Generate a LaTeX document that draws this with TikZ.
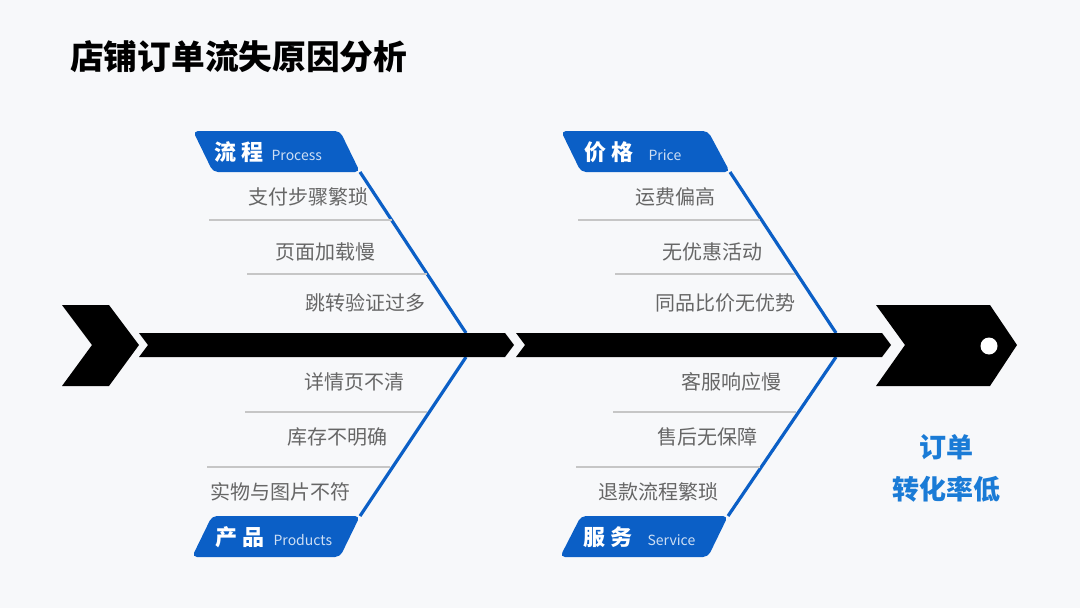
\documentclass[tikz,border=0pt]{standalone}
\usepackage{fontspec}
\setmainfont{Noto Sans CJK SC}
\usepackage{tikz}
\usetikzlibrary{positioning, calc}
\definecolor{BgGray}{HTML}{F7F8FA}
\definecolor{MainBlue}{HTML}{0B5FC6}
\definecolor{TextGray}{HTML}{666666}
\definecolor{LineGray}{HTML}{C6C6C6}
\definecolor{ResBlue}{HTML}{1A7BD6}

\begin{document}
\begin{tikzpicture}[
  x=1pt, y=-1pt,
  tab/.style={fill=MainBlue, rounded corners=5pt},
  bone/.style={draw=MainBlue, line width=3.2pt},
  sep/.style={draw=LineGray, line width=1.3pt},
  spine/.style={fill=black},
  item/.style={anchor=east, inner sep=0pt, text=TextGray,
    font=\fontsize{20}{24}\selectfont},
  cat/.style={anchor=west, inner sep=0pt, text=white,
    font=\fontsize{22}{26}\selectfont\bfseries},
  eng/.style={inner sep=0pt, text=white!80!MainBlue,
    font=\fontsize{14}{16}\selectfont},
  res/.style={inner sep=0pt, text=ResBlue,
    font=\fontsize{27}{32}\selectfont\bfseries},
]
  % -------- 画布与标题 --------
  \fill[BgGray] (0,0) rectangle (1080,608);
  \node[anchor=west, inner sep=0pt, font=\fontsize{33.7}{40}\selectfont\bfseries]
    (title) at (70,57) {店铺订单流失原因分析};

  % -------- 鱼骨与主干的交点 --------
  \coordinate (PrJ) at (466,333);
  \coordinate (PdJ) at (466,357);
  \coordinate (PcJ) at (836,333);
  \coordinate (SvJ) at (836,357);

  % -------- 标签（平行四边形）--------
  \fill[tab] (193,131) -- (340,131) -- (360,172) coordinate (PrT) -- (213,172) -- cycle;
  \fill[tab] (212,516) -- (360,516) coordinate (PdT) -- (340,557) -- (192,557) -- cycle;
  \fill[tab] (561,131) -- (708,131) -- (730,172) coordinate (PcT) -- (581,172) -- cycle;
  \fill[tab] (581,516) -- (728,516) coordinate (SvT) -- (708,557) -- (560,557) -- cycle;

  % -------- 斜向鱼骨 --------
  \draw[bone] (PrT) -- (PrJ);
  \draw[bone] (PdT) -- (PdJ);
  \draw[bone] (PcT) -- (PcJ);
  \draw[bone] (SvT) -- (SvJ);

  % -------- 主干：鱼尾、两段脊骨、鱼头 --------
  \fill[spine] (62,305) -- (109,305) -- (139,345) -- (109,386) -- (62,386) -- (92,345) -- cycle;
  \fill[spine] (139,333) -- (505,333) -- (514,345) -- (505,357) -- (139,357) -- (148,345) -- cycle;
  \fill[spine] (516,333) -- (882,333) -- (891,345) -- (882,357) -- (516,357) -- (525,345) -- cycle;
  \fill[spine] (876,305) -- (990,305) -- (1017,345) -- (990,386) -- (876,386) -- (905,345) -- cycle;
  \fill[white] (989,346) circle (8.5);

  % -------- 标签文字 --------
  \node[cat] (PrC) at (214,152) {流\hspace{5pt}程};
  \node[eng, right=8pt of PrC.base east, anchor=base west] (PrE) {Process};
  \node[cat] (PdC) at (215,537) {产\hspace{5pt}品};
  \node[eng, right=9pt of PdC.base east, anchor=base west] (PdE) {Products};
  \node[cat] (PcC) at (584,152) {价\hspace{5pt}格};
  \node[eng, right=15pt of PcC.base east, anchor=base west] (PcE) {Price};
  \node[cat] (SvC) at (583,537) {服\hspace{5pt}务};
  \node[eng, right=15pt of SvC.base east, anchor=base west] (SvE) {Service};

  % -------- 原因条目 --------
  \node[item] (Pr1) at (369,197) {支付步骤繁琐};
  \node[item] (Pr2) at (376,252) {页面加载慢};
  \node[item] (Pr3) at (426,303) {跳转验证过多};
  \node[item] (Pd1) at (405,382) {详情页不清};
  \node[item] (Pd2) at (388,437) {库存不明确};
  \node[item] (Pd3) at (351,492) {实物与图片不符};
  \node[item] (Pc1) at (716,197) {运费偏高};
  \node[item] (Pc2) at (763,252) {无优惠活动};
  \node[item] (Pc3) at (796,303) {同品比价无优势};
  \node[item] (Sv1) at (782,382) {客服响应慢};
  \node[item] (Sv2) at (758,437) {售后无保障};
  \node[item] (Sv3) at (719,492) {退款流程繁琐};

  % -------- 条目分隔线 --------
  \draw[sep] (209,220) -- (392,220);
  \draw[sep] (247,274) -- (427,274);
  \draw[sep] (245,412) -- (427,412);
  \draw[sep] (207,467) -- (390,467);
  \draw[sep] (578,220) -- (760,220);
  \draw[sep] (615,274) -- (795,274);
  \draw[sep] (613,412) -- (796,412);
  \draw[sep] (576,467) -- (760,467);

  % -------- 结果（鱼头下方）--------
  \node[res] (R1) at (946,447) {订单};
  \node[res] (R2) at (946,489) {转化率低};
\end{tikzpicture}
\end{document}
